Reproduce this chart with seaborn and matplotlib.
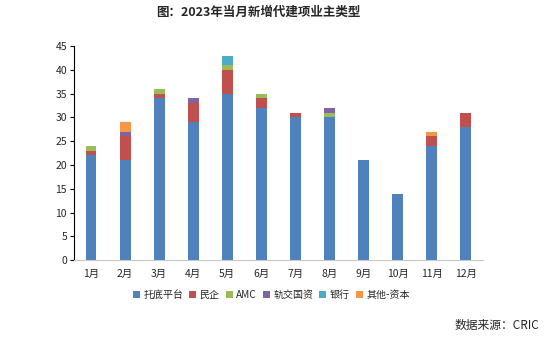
import matplotlib
matplotlib.use("Agg")
import matplotlib.pyplot as plt
import seaborn as sns
import numpy as np
import pandas as pd

months = ["1月", "2月", "3月", "4月", "5月", "6月", "7月", "8月", "9月", "10月", "11月", "12月"]
tuodi = [22, 21, 34, 29, 35, 32, 30, 30, 21, 14, 24, 28]
minqi = [1, 5, 1, 4, 5, 2, 1, 0, 0, 0, 2, 3]
amc = [1, 0, 1, 0, 1, 1, 0, 1, 0, 0, 0, 0]
guijiao = [0, 1, 0, 1, 0, 0, 0, 1, 0, 0, 0, 0]
yinhang = [0, 0, 0, 0, 2, 0, 0, 0, 0, 0, 0, 0]
qita = [0, 2, 0, 0, 0, 0, 0, 0, 0, 0, 1, 0]

series_names = ["托底平台", "民企", "AMC", "轨交国资", "银行", "其他-资本"]
series_vals = [tuodi, minqi, amc, guijiao, yinhang, qita]
colors = ["#4F81BD", "#C0504D", "#9BBB59", "#8064A2", "#4BACC6", "#F79646"]

sns.set_theme(style="white")
plt.rcParams['font.family'] = ['Noto Sans CJK SC', 'DejaVu Sans']

fig = plt.figure(figsize=(5.48, 3.37), dpi=100)
ax = fig.add_axes([0.135, 0.228, 0.746, 0.6355])

bottom = np.zeros(len(months))
for name, vals, c in zip(series_names, series_vals, colors):
    df = pd.DataFrame({"month": months, "value": vals})
    sns.barplot(data=df, x="month", y="value", color=c, bottom=bottom,
                width=0.32, ax=ax, label=name, saturation=1, linewidth=0)
    bottom = bottom + np.array(vals)

ax.set_ylim(0, 45)
ax.set_yticks(range(0, 46, 5))
ax.set_xlim(-0.5, 11.5)
ax.set_xlabel("")
ax.set_ylabel("")
ax.tick_params(axis="y", labelsize=7.5, length=3, width=0.8, color="black", direction="out", left=True, pad=2)
ax.tick_params(axis="x", labelsize=7.5, length=0, pad=6)
for s in ["top", "right"]:
    ax.spines[s].set_visible(False)
ax.spines["left"].set_color("black")
ax.spines["left"].set_linewidth(0.8)
ax.spines["bottom"].set_color("#C8C8C8")
ax.spines["bottom"].set_linewidth(0.8)

fig.text(0.471, 0.965, "图：2023年当月新增代建项业主类型", ha="center", va="center",
         fontsize=9, fontweight="bold")

leg = fig.legend(*ax.get_legend_handles_labels(), loc="center", bbox_to_anchor=(0.495, 0.125),
                 ncol=6, frameon=False, fontsize=7.2, handlelength=0.7, handleheight=0.7,
                 handletextpad=0.35, columnspacing=0.6)
if ax.get_legend() is not None:
    ax.get_legend().remove()

fig.text(0.985, 0.035, "数据来源：CRIC", ha="right", va="center", fontsize=8.5)

fig.savefig("out.png", dpi=100)
